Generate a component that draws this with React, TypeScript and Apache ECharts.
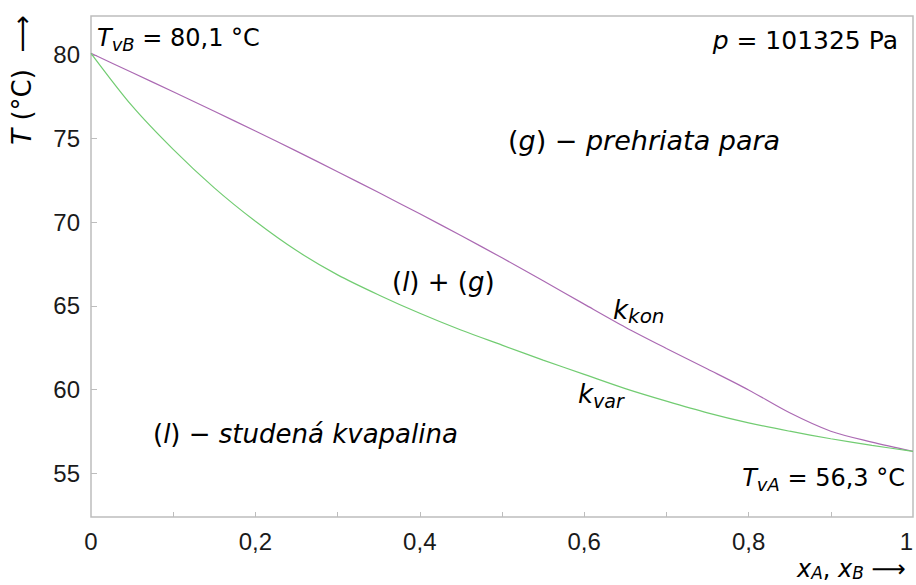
import React, { useEffect, useRef } from "react";
import * as echarts from "echarts";

// Mole fraction of A (liquid / vapour)
const xValues = [0, 0.05, 0.1, 0.15, 0.2, 0.25, 0.3, 0.35, 0.4, 0.45, 0.5, 0.55, 0.6, 0.65, 0.7, 0.75, 0.8, 0.85, 0.9, 0.95, 1];
// Condensation curve (dew point), °C
const kKon = [80.1, 78.95, 77.8, 76.63, 75.45, 74.25, 73.02, 71.77, 70.5, 69.2, 67.87, 66.5, 65.1, 63.72, 62.45, 61.22, 59.97, 58.6, 57.5, 56.85, 56.3];
// Boiling curve (bubble point), °C
const kVar = [80.1, 76.95, 74.35, 72.05, 70.05, 68.3, 66.85, 65.65, 64.55, 63.55, 62.65, 61.75, 60.9, 60.05, 59.3, 58.6, 58.0, 57.5, 57.05, 56.65, 56.3];

const yTicks = [55, 60, 65, 70, 75, 80];
const xLabels = [0, 0.2, 0.4, 0.6, 0.8, 1];
const xMinor = [0.1, 0.2, 0.3, 0.4, 0.5, 0.6, 0.7, 0.8, 0.9];

const F_TICK = "Liberation Sans";
const F_ANN = "DejaVu Sans";
const NAVY = "#25257f";
const TXT = "#1a1a1a";

function richStyles(size: number, sub: number, color: string, lh: number) {
  return {
    i: { fontFamily: F_ANN, fontStyle: "italic", fontSize: size, lineHeight: lh, color },
    u: { fontFamily: F_ANN, fontSize: size, lineHeight: lh, color },
    s: { fontFamily: F_ANN, fontStyle: "italic", fontSize: sub, lineHeight: sub, verticalAlign: "bottom", color },
  } as any;
}

function label(text: string, x: number, y: number, align: string, size: number, sub: number, color: string, extra: any = {}, lh?: number) {
  return {
    type: "text",
    x,
    y,
    silent: true,
    ...extra,
    style: { text, align, verticalAlign: "middle", rich: richStyles(size, sub, color, lh ?? size + 6) },
  };
}

export default function App() {
  const ref = useRef<HTMLDivElement>(null);
  useEffect(() => {
    if (!ref.current) return;
    const chart = echarts.init(ref.current, undefined, { renderer: "svg" });
    const option: any = {
      animation: false,
      backgroundColor: "#ffffff",
      grid: { left: 91, right: 3, top: 16, bottom: 68, show: true, borderColor: "#bdbdbd", borderWidth: 1.5, outerBoundsMode: "none", containLabel: false },
      xAxis: {
        type: "value",
        min: 0,
        max: 1,
        axisLine: { show: false },
        splitLine: { show: false },
        axisTick: { show: true, inside: true, length: 5, customValues: xMinor, lineStyle: { color: "#bdbdbd", width: 1 } },
        axisLabel: {
          customValues: xLabels,
          formatter: (v: number) => String(v).replace(".", ","),
          fontFamily: F_TICK,
          fontSize: 24,
          color: TXT,
          margin: 12,
          alignMaxLabel: "right",
        },
      },
      yAxis: {
        type: "value",
        min: 52.37,
        max: 82.33,
        axisLine: { show: false },
        splitLine: { show: false },
        axisTick: { show: true, inside: true, length: 6, customValues: yTicks, lineStyle: { color: "#bdbdbd", width: 1 } },
        axisLabel: { customValues: yTicks, fontFamily: F_TICK, fontSize: 24, color: TXT, margin: 11 },
      },
      series: [
        {
          name: "k_kon",
          type: "line",
          data: xValues.map((x, i) => [x, kKon[i]]),
          showSymbol: false,
          smooth: 0.3,
          lineStyle: { color: "#ab6ab3", width: 1.2 },
        },
        {
          name: "k_var",
          type: "line",
          data: xValues.map((x, i) => [x, kVar[i]]),
          showSymbol: false,
          smooth: 0.3,
          lineStyle: { color: "#72cc72", width: 1.2 },
        },
      ],
      graphic: [
        label("{i|T}{s|vB}{u| = 80,1 °C}", 97, 38, "left", 24, 18, TXT),
        label("{i|p}{u| = 101325 Pa}", 898, 40, "right", 25, 18, TXT),
        label("{u|(}{i|g}{u|) − }{i|prehriata para}", 508, 140, "left", 27, 19, NAVY),
        label("{u|(}{i|l}{u|) + (}{i|g}{u|)}", 392, 282, "left", 26, 19, NAVY),
        label("{u|(}{i|l}{u|) − }{i|studená kvapalina}", 153, 434, "left", 26, 19, NAVY),
        label("{i|k}{s|kon}", 613, 310, "left", 26, 20, "#9d3aa0"),
        label("{i|k}{s|var}", 578, 394, "left", 26, 19, "#3a8a3a"),
        label("{i|T}{s|vA}{u| = 56,3 °C}", 905, 478, "right", 24, 18, TXT),
        label("{i|x}{s|A}{u|, }{i|x}{s|B}{u| ⟶}", 797, 569, "left", 24, 17, TXT, {}, 24),
        label("{i|T}{u| (°C)  ⟶}", 22, 80, "center", 26, 18, TXT, { rotation: Math.PI / 2 }),
      ],
    };
    chart.setOption(option);
    return () => chart.dispose();
  }, []);
  return <div ref={ref} style={{ width: 916, height: 585, position: "absolute", left: 0, top: 0 }} />;
}
